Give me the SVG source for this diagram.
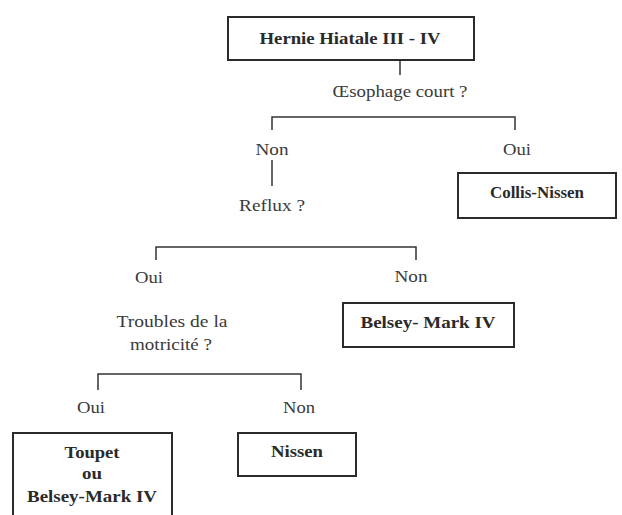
<svg xmlns="http://www.w3.org/2000/svg" width="622" height="515" viewBox="0 0 622 515">
<style>
.box{fill:#fff;stroke:#2b2b2b;stroke-width:2}
.ln{fill:none;stroke:#333;stroke-width:1.5}
.b{font-family:"Liberation Serif","Times New Roman",serif;font-weight:bold;font-size:17px;fill:#2a2a2a;text-anchor:middle}
.t{font-family:"Liberation Serif","Times New Roman",serif;font-size:17px;fill:#3a3a3a;text-anchor:middle}
</style>
<rect width="622" height="515" fill="#fff"/>
<g id="connectors">
<line class="ln" x1="400" y1="60" x2="400" y2="75"/>
<path class="ln" d="M272,130 V117 H515 V130"/>
<line class="ln" x1="272" y1="160" x2="272" y2="186"/>
<path class="ln" d="M156,260 V247 H416 V260"/>
<path class="ln" d="M98,390 V374 H301 V390"/>
</g>
<g id="hernie">
<rect class="box" x="228" y="17" width="246" height="43"/>
<text class="b" x="350" y="44" textLength="181" lengthAdjust="spacingAndGlyphs">Hernie Hiatale III - IV</text>
</g>
<g id="q-oesophage">
<text class="t" x="400" y="97" textLength="135" lengthAdjust="spacingAndGlyphs">Œsophage court ?</text>
</g>
<g id="non1"><text class="t" x="272" y="155" textLength="33" lengthAdjust="spacingAndGlyphs">Non</text></g>
<g id="oui1"><text class="t" x="517" y="155" textLength="28" lengthAdjust="spacingAndGlyphs">Oui</text></g>
<g id="collis">
<rect class="box" x="458" y="173" width="158" height="45"/>
<text class="b" x="537" y="198" textLength="94" lengthAdjust="spacingAndGlyphs">Collis-Nissen</text>
</g>
<g id="q-reflux"><text class="t" x="272" y="211" textLength="66" lengthAdjust="spacingAndGlyphs">Reflux ?</text></g>
<g id="oui2"><text class="t" x="149" y="283" textLength="28" lengthAdjust="spacingAndGlyphs">Oui</text></g>
<g id="non2"><text class="t" x="411" y="282" textLength="33" lengthAdjust="spacingAndGlyphs">Non</text></g>
<g id="belsey">
<rect class="box" x="343" y="303" width="171" height="44"/>
<text class="b" x="428" y="328" textLength="135" lengthAdjust="spacingAndGlyphs">Belsey- Mark IV</text>
</g>
<g id="q-troubles">
<text class="t" x="172" y="327" textLength="111" lengthAdjust="spacingAndGlyphs">Troubles de la</text>
<text class="t" x="171" y="350" textLength="82" lengthAdjust="spacingAndGlyphs">motricité ?</text>
</g>
<g id="oui3"><text class="t" x="91" y="413" textLength="28" lengthAdjust="spacingAndGlyphs">Oui</text></g>
<g id="non3"><text class="t" x="299" y="413" textLength="32" lengthAdjust="spacingAndGlyphs">Non</text></g>
<g id="toupet">
<rect class="box" x="13" y="433" width="159" height="100"/>
<text class="b" x="92" y="458" textLength="55" lengthAdjust="spacingAndGlyphs">Toupet</text>
<text class="b" x="92" y="479" textLength="20" lengthAdjust="spacingAndGlyphs">ou</text>
<text class="b" x="92" y="502" textLength="130" lengthAdjust="spacingAndGlyphs">Belsey-Mark IV</text>
</g>
<g id="nissen">
<rect class="box" x="238" y="433" width="118" height="43"/>
<text class="b" x="297" y="457" textLength="52" lengthAdjust="spacingAndGlyphs">Nissen</text>
</g>
</svg>
